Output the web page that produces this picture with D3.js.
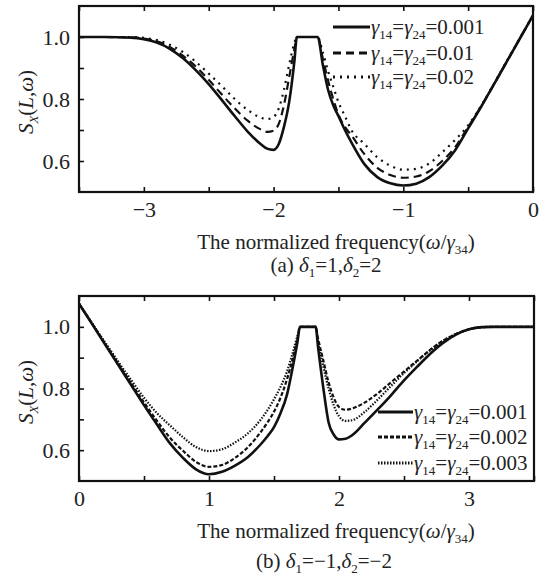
<!DOCTYPE html>
<html>
<head>
<meta charset="utf-8">
<script src="https://cdn.jsdelivr.net/npm/d3@7"></script>
<style>
  body { margin: 0; background: #fff; }
</style>
</head>
<body>
<svg id="canvas"></svg>
<script>
// Panel (a): frequency grid and curves.
var topX = [-3.5, -3.3, -3.1, -3.0, -2.9, -2.8, -2.7, -2.6, -2.5, -2.4, -2.3, -2.2, -2.1, -2.05, -2.0,
            -1.96, -1.92, -1.88, -1.84, -1.82, -1.7, -1.66, -1.62, -1.58, -1.54, -1.5, -1.45, -1.4,
            -1.3, -1.2, -1.1, -1.0, -0.9, -0.8, -0.7, -0.6, -0.5, -0.4, -0.3, -0.2, -0.1, 0];
var topSolid = [1.0, 1.0, 0.998, 0.993, 0.982, 0.962, 0.932, 0.893, 0.848, 0.797, 0.745, 0.695, 0.655, 0.640, 0.636,
                0.655, 0.71, 0.79, 0.92, 1.0, 1.0, 1.0, 0.91, 0.83, 0.78, 0.745, 0.70, 0.66,
                0.59, 0.548, 0.528, 0.521, 0.527, 0.548, 0.585, 0.635, 0.705, 0.775, 0.848, 0.922, 0.996, 1.07];
var topDash = [1.0, 1.0, 0.999, 0.995, 0.986, 0.968, 0.94, 0.905, 0.862, 0.815, 0.77, 0.73, 0.702, 0.694, 0.698,
               0.72, 0.78, 0.87, 0.96, 1.0, 1.0, 1.0, 0.93, 0.86, 0.80, 0.75, 0.71, 0.683,
               0.622, 0.578, 0.555, 0.546, 0.55, 0.567, 0.60, 0.645, 0.71, 0.776, 0.848, 0.922, 0.996, 1.07];
var topDot = [1.0, 1.0, 1.0, 0.997, 0.99, 0.975, 0.952, 0.92, 0.882, 0.842, 0.80, 0.765, 0.74, 0.735, 0.742,
              0.77, 0.83, 0.91, 0.98, 1.0, 1.0, 1.0, 0.95, 0.89, 0.84, 0.79, 0.745, 0.70,
              0.655, 0.612, 0.585, 0.572, 0.575, 0.592, 0.628, 0.668, 0.715, 0.778, 0.85, 0.924, 0.997, 1.07];
var topLegend = ['0.001', '0.01', '0.02'];

// Panel (b): frequency grid and curves.
var botX = [0, 0.1, 0.2, 0.3, 0.4, 0.5, 0.6, 0.7, 0.8, 0.9, 1.0, 1.1, 1.2, 1.3, 1.4, 1.45, 1.5, 1.55, 1.6,
            1.64, 1.68, 1.7, 1.82, 1.84, 1.88, 1.92, 1.96, 2.0, 2.05, 2.1, 2.2, 2.3, 2.4, 2.5, 2.6, 2.7,
            2.8, 2.9, 3.0, 3.1, 3.2, 3.3, 3.5];
var botSolid = [1.075, 1.01, 0.943, 0.878, 0.812, 0.746, 0.683, 0.622, 0.575, 0.538, 0.522, 0.53, 0.55, 0.578, 0.62, 0.645, 0.675, 0.72, 0.78,
                0.86, 0.95, 1.0, 1.0, 0.93, 0.80, 0.69, 0.65, 0.635, 0.637, 0.648, 0.69, 0.733, 0.778, 0.826, 0.87, 0.912,
                0.948, 0.975, 0.992, 0.999, 1.0, 1.0, 1.0];
var botDash = [1.075, 1.011, 0.946, 0.882, 0.818, 0.755, 0.695, 0.64, 0.598, 0.562, 0.546, 0.552, 0.575, 0.61, 0.66, 0.69, 0.725, 0.77, 0.83,
               0.89, 0.96, 1.0, 1.0, 0.96, 0.89, 0.82, 0.77, 0.74, 0.731, 0.735, 0.755, 0.785, 0.82, 0.855, 0.89, 0.925,
               0.955, 0.977, 0.992, 0.999, 1.0, 1.0, 1.0];
var botDot = [1.075, 1.012, 0.95, 0.888, 0.828, 0.77, 0.72, 0.68, 0.642, 0.61, 0.597, 0.603, 0.625, 0.655, 0.70, 0.73, 0.765, 0.805, 0.855,
              0.91, 0.97, 1.0, 1.0, 0.95, 0.87, 0.80, 0.745, 0.71, 0.695, 0.697, 0.725, 0.765, 0.808, 0.85, 0.888, 0.924,
              0.955, 0.977, 0.992, 0.999, 1.0, 1.0, 1.0];
var botLegend = ['0.001', '0.002', '0.003'];

// Shared axis values.
var yTicks = [0.6, 0.7, 0.8, 0.9, 1.0];
var yLabels = [0.6, 0.8, 1.0];

// Canvas settings.
var canvas = { w: 552, h: 580 };
var serif = '"Liberation Serif", "Times New Roman", serif';

var svg = d3.select('#canvas')
            .attr('width', canvas.w)
            .attr('height', canvas.h);

// Panel layout.
var panels = [
  {
    box: { x0: 79, x1: 533, y0: 6, y1: 192 },
    xDomain: [-3.5, 0],
    xTicks: d3.range(-3.5, 0.01, 0.5),
    x: topX,
    series: [
      { y: topSolid, dash: null, width: 2.6 },
      { y: topDash, dash: '8,5', width: 2.2 },
      { y: topDot, dash: '2,5', width: 2.2 }
    ],
    legend: { labels: topLegend, x1: 333, x2: 370, y: [27, 53, 77] },
    caption: { x: 326, y: 272, parts: [['(a) ', 0], ['δ', 1], ['1', 2], ['=1,', 0], ['δ', 1], ['2', 2], ['=2', 0]] },
    titleY: 249,
    yTitle: 102
  },
  {
    box: { x0: 79, x1: 534, y0: 296, y1: 481 },
    xDomain: [0, 3.5],
    xTicks: d3.range(0, 3.51, 0.5),
    x: botX,
    series: [
      { y: botSolid, dash: null, width: 2.6 },
      { y: botDash, dash: '4,2', width: 2.2 },
      { y: botDot, dash: '1.5,1.5', width: 2.2 }
    ],
    legend: { labels: botLegend, x1: 378, x2: 413, y: [412, 437, 463] },
    caption: { x: 324, y: 568, parts: [['(b) ', 0], ['δ', 1], ['1', 2], ['=−1,', 0], ['δ', 1], ['2', 2], ['=−2', 0]] },
    titleY: 538,
    yTitle: 392
  }
];

// Append text made of plain (0) / italic (1) / subscript (2) / italic subscript (3) parts.
var addParts = function(t, parts, size) {
  var shift = size * 0.22;
  var down = false;
  parts.forEach(function(p) {
    var s = t.append('tspan').text(p[0]);
    var sub = p[1] >= 2;
    if (p[1] === 1 || p[1] === 3) s.style('font-style', 'italic');
    if (sub) s.style('font-size', (size * 0.62) + 'px');
    if (sub && !down) s.attr('dy', shift);
    if (!sub && down) s.attr('dy', -shift);
    down = sub;
  });
};

panels.forEach(function(p) {
  var b = p.box;
  var x = d3.scaleLinear().domain(p.xDomain).range([b.x0, b.x1]);
  var y = d3.scaleLinear().domain([0.5, 1.1]).range([b.y1, b.y0]);
  var g = svg.append('g');

  // Curves.
  var line = d3.line()
               .x(function(d) { return x(d[0]); })
               .y(function(d) { return y(d[1]); })
               .curve(d3.curveMonotoneX);

  p.series.forEach(function(s) {
    var pts = p.x.map(function(v, i) { return [v, s.y[i]]; });
    g.append('path')
     .attr('d', line(pts))
     .attr('fill', 'none')
     .attr('stroke', '#111')
     .attr('stroke-width', s.width)
     .attr('stroke-dasharray', s.dash);
  });

  // Axes, ticks pointing inward.
  var xb = d3.axisBottom(x).tickValues(p.xTicks).tickSize(-5).tickPadding(9)
             .tickFormat(function(d) { return Math.abs(d - Math.round(d)) < 1e-6 ? d3.format('d')(Math.round(d)) : ''; });
  var xt = d3.axisTop(x).tickValues(p.xTicks).tickSize(-5).tickFormat('');
  var yl = d3.axisLeft(y).tickValues(yTicks).tickSize(-5).tickPadding(9)
             .tickFormat(function(d) { return yLabels.some(function(v) { return Math.abs(v - d) < 1e-6; }) ? d3.format('.1f')(d) : ''; });

  [[xb, 'translate(0,' + b.y1 + ')'], [xt, 'translate(0,' + b.y0 + ')'], [yl, 'translate(' + b.x0 + ',0)']].forEach(function(a) {
    var ax = g.append('g').attr('transform', a[1]).call(a[0]);
    ax.select('.domain').remove();
    ax.selectAll('line').attr('stroke', '#111').attr('stroke-width', 1.6);
    ax.selectAll('text').style('font-size', '22px').style('font-family', serif).attr('fill', '#222');
  });

  // Frame.
  g.append('rect')
   .attr('x', b.x0).attr('y', b.y0)
   .attr('width', b.x1 - b.x0).attr('height', b.y1 - b.y0)
   .attr('fill', 'none').attr('stroke', '#111').attr('stroke-width', 2.2);

  // Legend.
  p.legend.labels.forEach(function(lab, i) {
    var ly = p.legend.y[i];
    var s = p.series[i];
    g.append('line')
     .attr('x1', p.legend.x1).attr('x2', p.legend.x2)
     .attr('y1', ly).attr('y2', ly)
     .attr('stroke', '#111').attr('stroke-width', s.width + 0.6)
     .attr('stroke-dasharray', s.dash);
    var t = g.append('text').attr('x', p.legend.x2 + 1).attr('y', ly + 7)
             .style('font-size', '21px').style('font-family', serif).attr('fill', '#222');
    addParts(t, [['γ', 1], ['14', 2], ['=', 0], ['γ', 1], ['24', 2], ['=' + lab, 0]], 21);
  });

  // X title.
  var xt2 = g.append('text').attr('x', 336).attr('y', p.titleY).attr('text-anchor', 'middle')
             .style('font-size', '21px').style('font-family', serif).attr('fill', '#222');
  addParts(xt2, [['The normalized frequency(', 0], ['ω', 1], ['/', 0], ['γ', 1], ['34', 2], [')', 0]], 21);

  // Caption.
  var cap = g.append('text').attr('x', p.caption.x).attr('y', p.caption.y).attr('text-anchor', 'middle')
             .style('font-size', '21px').style('font-family', serif).attr('fill', '#222');
  addParts(cap, p.caption.parts, 21);

  // Y title.
  var yt = g.append('text')
            .attr('transform', 'translate(33,' + p.yTitle + ') rotate(-90)')
            .attr('text-anchor', 'middle')
            .style('font-size', '21px').style('font-family', serif).attr('fill', '#222');
  addParts(yt, [['S', 1], ['X', 3], ['(', 0], ['L', 1], [',', 0], ['ω', 1], [')', 0]], 21);
});
</script>
</body>
</html>
